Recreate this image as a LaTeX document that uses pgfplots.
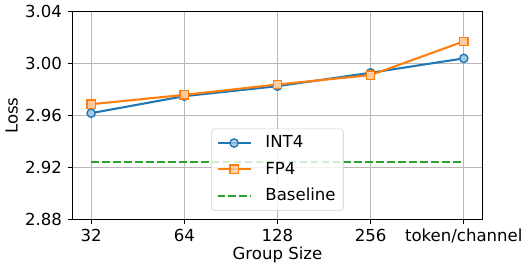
\documentclass[border=0pt]{standalone}
\usepackage{fontspec}
\setmainfont{DejaVu Sans}
\usepackage{pgfplots}
\pgfplotsset{compat=1.18}
\definecolor{tabblue}{HTML}{1F77B4}
\definecolor{taborange}{HTML}{FF7F0E}
\definecolor{tabgreen}{HTML}{2CA02C}
\begin{document}
\fontsize{12}{14.4}\selectfont
\begin{tikzpicture}
\begin{axis}[
  scale only axis,
  width=297pt, height=150.5pt,
  xmin=-0.2, xmax=4.2,
  ymin=2.88, ymax=3.04,
  xtick={0,1,2,3,4},
  xticklabels={32,64,128,256,token/channel},
  ytick={2.88,2.92,2.96,3.00,3.04},
  yticklabel style={/pgf/number format/.cd,fixed,precision=2,fixed zerofill},
  /pgf/number format/assume math mode=true,
  tick label style={font=\fontsize{12}{14.4}\selectfont},
  label style={font=\fontsize{12}{14.4}\selectfont},
  xlabel={Group Size}, ylabel={Loss},
  xlabel style={yshift=5pt},
  ylabel style={yshift=-3pt},
  xticklabel style={yshift=1pt},
  grid=major,
  major grid style={color=black!28, line width=0.8pt},
  axis line style={line width=0.8pt},
  tick style={black, line width=0.8pt},
  tick align=outside,
  major tick length=3.5pt,
  xtick pos=bottom, ytick pos=left,
  legend style={at={(0.5,0.043)}, anchor=south, draw=black!20, fill=white, fill opacity=0.8, text opacity=1, rounded corners=2pt, font=\fontsize{12}{14.4}\selectfont, row sep=4.5pt, inner xsep=3.5pt, inner ysep=3pt, nodes={inner sep=2pt}, /tikz/every odd column/.append style={column sep=8pt}},
  legend cell align=left,
  legend image code/.code={\draw[mark repeat=2,mark phase=2] plot coordinates {(0pt,0pt) (12pt,0pt) (24pt,0pt)};},
]
\addplot[color=tabblue, line width=1.5pt, mark=*, mark size=3pt, mark options={fill=tabblue!40!white, line width=1pt}] coordinates {
(0,2.9619) (1,2.9750) (2,2.9827) (3,2.9930) (4,3.0041)};
\addlegendentry{INT4}
\addplot[color=taborange, line width=1.5pt, mark=square*, mark size=3pt, mark options={fill=taborange!40!white, line width=1pt}] coordinates {
(0,2.9688) (1,2.9760) (2,2.9840) (3,2.9912) (4,3.0172)};
\addlegendentry{FP4}
\addplot[color=tabgreen, line width=1.5pt, dash pattern=on 5.55pt off 2.4pt] coordinates {
(0,2.9240) (1,2.9240) (2,2.9240) (3,2.9240) (4,2.9240)};
\addlegendentry{Baseline}
\end{axis}
\end{tikzpicture}
\end{document}
